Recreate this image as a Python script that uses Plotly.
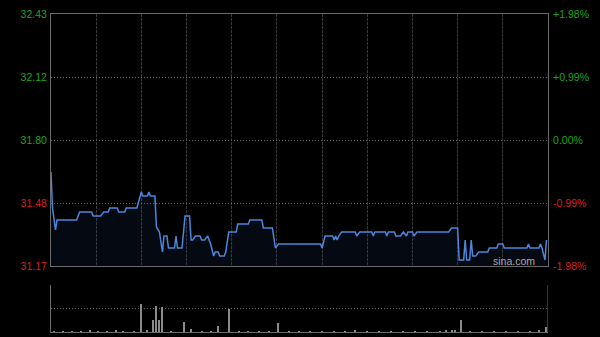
import plotly.graph_objects as go

prev_close = 31.80

# price breakpoints (minute index 0..330, HK session), price
minutes = [0, 1, 3, 4, 17, 19, 27, 28, 33, 35, 38, 39, 44, 45, 49, 50, 57, 60, 61, 64, 65, 66, 69,
           70, 72, 74, 75, 77, 78, 82, 83, 84, 87, 89, 92, 93, 94, 96, 99, 100, 102, 104, 105,
           106, 108, 109, 111, 112, 115, 116, 118, 123, 124, 131, 132, 140, 141, 147, 149, 151,
           179, 180, 182, 187, 188, 189, 190, 191, 193, 202, 203, 205, 213, 214, 215, 222, 223,
           224, 228, 229, 232, 234, 236, 237, 240, 241, 243, 264, 266, 270, 271, 274, 275, 276,
           278, 279, 280, 282, 284, 290, 291, 296, 297, 300, 301, 316, 317, 318, 324, 325, 326,
           328, 329]
prices = [31.64, 31.46, 31.35, 31.40, 31.40, 31.44, 31.44, 31.42, 31.42, 31.44, 31.44, 31.46, 31.46,
          31.44, 31.44, 31.46, 31.46, 31.54, 31.52, 31.52, 31.54, 31.52, 31.52,
          31.365, 31.34, 31.24, 31.32, 31.32, 31.26, 31.26, 31.32, 31.26, 31.26, 31.42, 31.42,
          31.30, 31.30, 31.32, 31.32, 31.30, 31.30, 31.32, 31.30,
          31.28, 31.22, 31.24, 31.24, 31.22, 31.22, 31.24, 31.34, 31.34, 31.38, 31.38, 31.40,
          31.40, 31.36, 31.36, 31.26, 31.28,
          31.28, 31.26, 31.32, 31.32, 31.30, 31.32, 31.30, 31.32, 31.34, 31.34, 31.32, 31.34,
          31.34, 31.32, 31.34, 31.34, 31.32,
          31.34, 31.34, 31.32, 31.32, 31.34, 31.32, 31.34, 31.34, 31.32, 31.34, 31.34, 31.36,
          31.36, 31.20, 31.20, 31.30, 31.20,
          31.20, 31.30, 31.22, 31.22, 31.24, 31.24, 31.26, 31.26, 31.28, 31.28, 31.26, 31.26,
          31.28, 31.26, 31.26, 31.28, 31.26,
          31.20, 31.30]

# volume spikes (minute, shares)
vol_minutes = [2, 8, 14, 20, 26, 31, 37, 43, 48, 55, 60, 64, 68, 70, 72, 74, 80, 88, 93, 100, 106,
               111, 118, 125, 131, 138, 145, 151, 158, 165, 172, 180, 188, 195, 202, 210, 218,
               226, 234, 242, 250, 258, 262, 266, 268, 272, 278, 286, 294, 302, 310, 318, 324, 329]
volumes = [3000, 2500, 4000, 3000, 6000, 2500, 3500, 5000, 3000, 4000, 120000, 6000, 50000, 110000,
           50000, 106000, 4000, 44000, 12000, 3000, 3500, 26000, 98000, 3000, 4000, 3000, 3500,
           40000, 3000, 2500, 4000, 3000, 3500, 3000, 5000, 3000, 3500, 3000, 2500, 3000, 3500,
           3000, 6000, 8000, 6000, 50000, 4000, 3000, 3500, 3000, 3000, 3500, 5000, 20000]

price_ticks = [31.17, 31.485, 31.80, 32.115, 32.43]
price_labels = ["31.17", "31.48", "31.80", "32.12", "32.43"]
pct_labels = ["-1.98%", "-0.99%", "0.00%", "+0.99%", "+1.98%"]

GREEN = "#1ea51e"
RED = "#d42020"

def colored(labels, vals):
    out = []
    for t, v in zip(labels, vals):
        c = GREEN if v >= prev_close - 1e-9 else RED
        out.append(f'<span style="color:{c}">{t}</span>')
    return out

fig = go.Figure()
fig.add_trace(go.Scatter(x=minutes, y=prices, mode="lines",
                         line=dict(color="#4a86dc", width=1.5),
                         fill="tozeroy", fillcolor="rgba(40,70,130,0.13)",
                         xaxis="x", yaxis="y", hoverinfo="skip"))
fig.add_trace(go.Scatter(x=[0], y=[prev_close], mode="markers", marker=dict(opacity=0),
                         xaxis="x", yaxis="y3", hoverinfo="skip", showlegend=False))
fig.add_trace(go.Bar(x=vol_minutes, y=volumes, width=0.7,
                     marker=dict(color="#8a8a8a", line=dict(width=0)),
                     xaxis="x2", yaxis="y2", hoverinfo="skip"))

rng = [31.17, 32.43]
main_dom = [0.2075, 1.0]
vol_dom = [0.0, 0.1478]
LINE = "#6a6a6a"

fig.update_layout(
    template="none",
    width=600, height=337,
    margin=dict(l=51, r=52, t=14, b=5, autoexpand=False),
    paper_bgcolor="#000000", plot_bgcolor="#000000",
    showlegend=False,
    font=dict(family="Liberation Sans, Arial, sans-serif", size=11),
    xaxis=dict(domain=[0, 1], range=[0, 330], anchor="y", showticklabels=False, ticks="",
               showgrid=True, tick0=0, dtick=30, gridcolor="#383838", griddash="3px,1px",
               gridwidth=1, showline=True, linecolor=LINE, linewidth=1, mirror=True,
               zeroline=False, automargin=False),
    yaxis=dict(domain=main_dom, range=rng, tickvals=price_ticks,
               ticktext=colored(price_labels, price_ticks), ticks="outside", ticklen=1,
               tickcolor="rgba(0,0,0,0)",
               showgrid=True, gridcolor=LINE, griddash="1px,2px", gridwidth=1,
               showline=True, linecolor=LINE, linewidth=1, mirror=True, zeroline=False,
               tickfont=dict(size=10.5), automargin=False),
    yaxis3=dict(overlaying="y", side="right", anchor="x", range=rng, tickvals=price_ticks,
                ticktext=colored(pct_labels, price_ticks), showgrid=False, zeroline=False,
                ticks="outside", ticklen=2, tickcolor="rgba(0,0,0,0)",
                tickfont=dict(size=10.5), automargin=False, showline=False),
    xaxis2=dict(domain=[0, 1], range=[0, 330], anchor="y2", showticklabels=False, ticks="",
                showgrid=False, showline=True, linecolor=LINE, linewidth=1, zeroline=False,
                automargin=False),
    yaxis2=dict(domain=vol_dom, range=[0, 200000], tickvals=[100000, 200000],
                showticklabels=False, ticks="", showgrid=True, gridcolor=LINE,
                griddash="1px,2px", showline=True, linecolor=LINE, linewidth=1,
                mirror=False, zeroline=False, anchor="x2", automargin=False),
    bargap=0,
)

# right border of volume panel
fig.add_shape(type="line", xref="x2", yref="y2", x0=330, x1=330, y0=0, y1=200000,
              line=dict(color=LINE, width=1))

fig.add_annotation(text="sina.com", xref="paper", yref="paper", x=0.978, y=main_dom[0],
                   xanchor="right", yanchor="bottom", yshift=-3, showarrow=False,
                   font=dict(color="#a8a8a8", size=10.5))

fig.write_html("out.html")
